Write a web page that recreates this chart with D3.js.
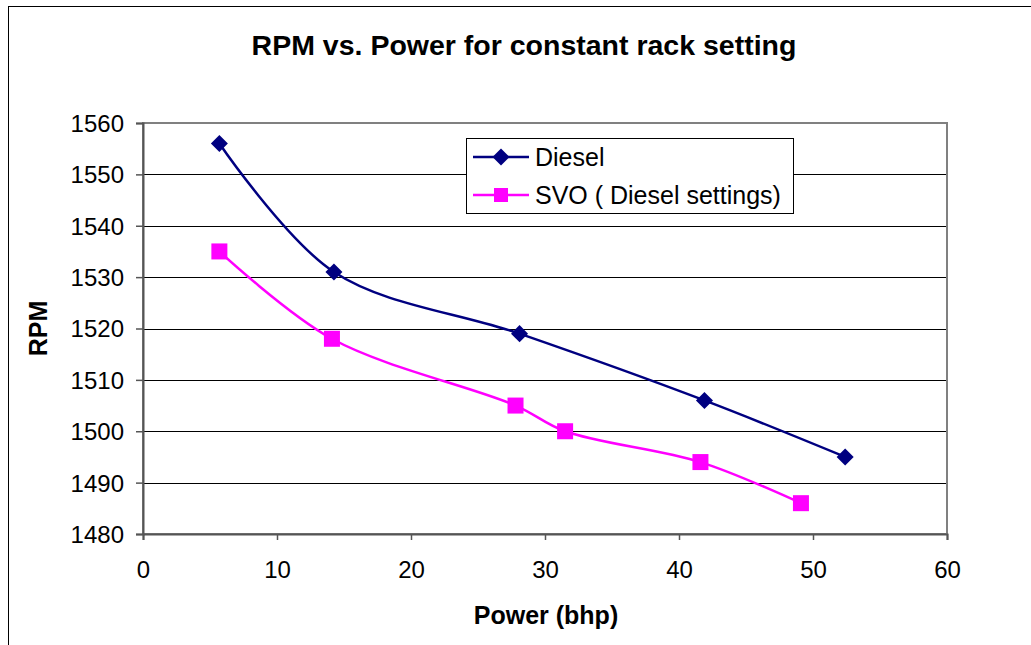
<!doctype html>
<html lang="en">
<head>
	<meta charset="UTF-8">
	<title>RPM vs. Power</title>
	<script src="https://d3js.org/d3.v7.min.js"></script>
	<style>
		body { margin: 0; background: #fff; }
		text { font-family: 'Liberation Sans', Arial, sans-serif; }
	</style>
</head>
<body>
	<div id="chart"></div>
	<script>
		// data
		var diesel_power = [5.7, 14.25, 28.1, 41.9, 52.4]
		var diesel_rpm = [1556, 1531, 1519, 1506, 1495]
		var svo_power = [5.7, 14.1, 27.8, 31.5, 41.6, 49.1]
		var svo_rpm = [1535, 1518, 1505, 1500, 1494, 1486]
		var x_ticks = [0, 10, 20, 30, 40, 50, 60]
		var y_ticks = [1480, 1490, 1500, 1510, 1520, 1530, 1540, 1550, 1560]
		var series_names = ['Diesel', 'SVO ( Diesel settings)']
		var series_colors = ['#000080', '#ff00ff']

		var w = 1031, h = 645
		var plot = {left: 143, top: 123, right: 947, bottom: 534}

		var svg = d3.select('#chart').append('svg')
			.attr('width', w)
			.attr('height', h)

		// outer chart frame (runs off right and bottom)
		svg.append('rect')
			.attr('x', 8.5).attr('y', 6.5)
			.attr('width', w + 10).attr('height', h + 10)
			.attr('fill', 'white').attr('stroke', '#000').attr('stroke-width', 1)

		var x = d3.scaleLinear().domain([0, 60]).range([plot.left, plot.right])
		var y = d3.scaleLinear().domain([1480, 1560]).range([plot.bottom, plot.top])

		// gridlines
		svg.append('g')
			.selectAll('line')
			.data(y_ticks.slice(1, -1))
			.join('line')
			.attr('x1', plot.left).attr('x2', plot.right)
			.attr('y1', d => Math.round(y(d)) + 0.5).attr('y2', d => Math.round(y(d)) + 0.5)
			.attr('stroke', '#000').attr('stroke-width', 1)

		// plot area border
		svg.append('rect')
			.attr('x', plot.left).attr('y', plot.top)
			.attr('width', plot.right - plot.left).attr('height', plot.bottom - plot.top)
			.attr('fill', 'none').attr('stroke', '#808080').attr('stroke-width', 2)

		// axes
		var x_axis = svg.append('g')
			.attr('transform', 'translate(0,' + plot.bottom + ')')
			.call(d3.axisBottom(x).tickValues(x_ticks).tickSize(6).tickPadding(21))
		var y_axis = svg.append('g')
			.attr('transform', 'translate(' + plot.left + ',0)')
			.call(d3.axisLeft(y).tickValues(y_ticks).tickSize(7).tickPadding(12).tickFormat(d3.format('d')))

		for (var ax of [x_axis, y_axis]) {
			ax.select('.domain').attr('stroke', '#555').attr('stroke-width', 2)
			ax.selectAll('.tick line').attr('stroke', '#555').attr('stroke-width', 1.5)
			ax.selectAll('.tick text')
				.attr('fill', '#000')
				.style('font-size', '24px')
				.style('font-family', "'Liberation Sans', Arial, sans-serif")
		}
		y_axis.selectAll('.tick text').attr('dy', '0.35em')

		// titles
		svg.append('text')
			.attr('x', 524).attr('y', 55)
			.attr('text-anchor', 'middle')
			.style('font-size', '28.5px').style('font-weight', 'bold')
			.text('RPM vs. Power for constant rack setting')

		svg.append('text')
			.attr('x', 546).attr('y', 624)
			.attr('text-anchor', 'middle')
			.style('font-size', '25px').style('font-weight', 'bold')
			.text('Power (bhp)')

		svg.append('text')
			.attr('transform', 'translate(47,' + ((plot.top + plot.bottom) / 2) + ') rotate(-90)')
			.attr('text-anchor', 'middle')
			.style('font-size', '25px').style('font-weight', 'bold')
			.text('RPM')

		// lines and markers
		var line = d3.line()
			.x(d => x(d[0]))
			.y(d => y(d[1]))
			.curve(d3.curveCatmullRom.alpha(0.5))

		var diesel = d3.zip(diesel_power, diesel_rpm)
		var svo = d3.zip(svo_power, svo_rpm)

		svg.append('path')
			.datum(diesel)
			.attr('d', line)
			.attr('fill', 'none').attr('stroke', series_colors[0]).attr('stroke-width', 2.5)

		svg.append('path')
			.datum(svo)
			.attr('d', line)
			.attr('fill', 'none').attr('stroke', series_colors[1]).attr('stroke-width', 2.5)

		var diamond = d3.symbol().type(d3.symbolSquare).size(145)
		svg.append('g')
			.selectAll('path')
			.data(diesel)
			.join('path')
			.attr('d', diamond)
			.attr('transform', d => 'translate(' + x(d[0]) + ',' + y(d[1]) + ') rotate(45)')
			.attr('fill', series_colors[0])

		svg.append('g')
			.selectAll('rect')
			.data(svo)
			.join('rect')
			.attr('x', d => x(d[0]) - 8).attr('y', d => y(d[1]) - 8)
			.attr('width', 16).attr('height', 16)
			.attr('fill', series_colors[1])

		// legend
		var legend = svg.append('g')
		legend.append('rect')
			.attr('x', 466.5).attr('y', 138.5)
			.attr('width', 327).attr('height', 75)
			.attr('fill', 'white').attr('stroke', '#000').attr('stroke-width', 1)

		var rows = [157, 195]
		rows.forEach(function(ry, i) {
			legend.append('line')
				.attr('x1', 473).attr('x2', 529)
				.attr('y1', ry).attr('y2', ry)
				.attr('stroke', series_colors[i]).attr('stroke-width', 2.5)
			if (i == 0) {
				legend.append('path')
					.attr('d', diamond)
					.attr('transform', 'translate(501,' + ry + ') rotate(45)')
					.attr('fill', series_colors[0])
			} else {
				legend.append('rect')
					.attr('x', 494).attr('y', ry - 7)
					.attr('width', 14).attr('height', 14)
					.attr('fill', series_colors[1])
			}
			legend.append('text')
				.attr('x', 535).attr('y', ry)
				.attr('dy', '0.35em')
				.style('font-size', '25px')
				.text(series_names[i])
		})
	</script>
</body>
</html>
